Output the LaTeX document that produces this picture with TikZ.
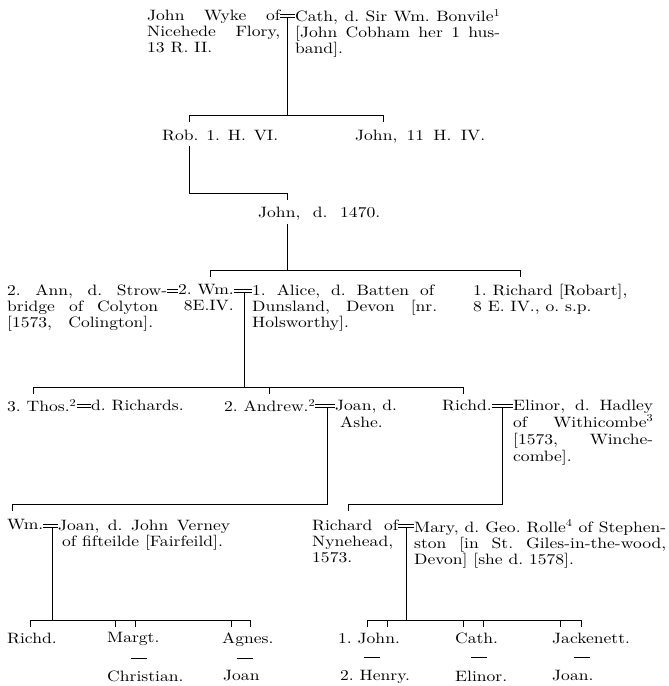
\documentclass[tikz,border=0pt]{standalone}
\usepackage{fontspec}
\setmainfont{lmroman10-regular.otf}[FakeStretch=1.17]
\usetikzlibrary{calc}
\newcommand{\spreadline}[2]{\makebox[#1pt][s]{#2}}
\tikzset{
    person/.style={anchor=north west, align=left, inner sep=0pt, font=\fontsize{15}{16}\selectfont\frenchspacing},
    tallperson/.style={person, font=\fontsize{15}{17}\selectfont\frenchspacing},
    kin/.style={line width=0.6pt},
    wed/.style={double=white, double distance=2.2pt, line width=0.5pt},
    sib/.style={line width=0.7pt}
}

\begin{document}
\begin{tikzpicture}[x=1pt, y=-1pt]
        \useasboundingbox (0,0) rectangle (669,686);
        \node[person] (wyke) at (147,9.5) {\spreadline{133}{John Wyke of}\\\spreadline{133}{Nicehede Flory,}\\13 R. II.};
        \node[person] (cath) at (295,9.5) {\spreadline{205}{Cath, d. Sir Wm. Bonvile\textsuperscript{1}}\\\spreadline{205}{[John Cobham her 1 hus-}\\band].};
        \node[person] (rob) at (162,129.5) {\spreadline{116}{Rob. 1. H. VI.}};
        \node[person] (johnA) at (355,129.5) {\spreadline{130}{John, 11 H. IV.}};
        \node[person] (johnB) at (258,206.5) {\spreadline{122}{John, d. 1470.}};
        \node[person] (ann) at (7,284.5) {\spreadline{160}{2. Ann, d. Strow-}\\\spreadline{151}{bridge of Colyton}\\\spreadline{146}{[1573, Colington].}};
        \node[person, align=right] (wmA) at (178,284.5) {2. Wm.\\8E.IV.};
        \node[person] (alice) at (252,284.5) {\spreadline{182}{1. Alice, d. Batten of}\\\spreadline{185}{Dunsland, Devon [nr.}\\Holsworthy].};
        \node[person] (richardA) at (473,284.5) {1. Richard [Robart],\\8 E. IV., o. s.p.};
        \node[person] (thos) at (7,399.5) {3. Thos.\textsuperscript{2}};
        \node[person] (thosW) at (91,399.5) {d. Richards.};
        \node[person] (andrew) at (224,399.5) {2. Andrew.\textsuperscript{2}};
        \node[tallperson] (joanA) at (335,399.5) {Joan, d.\\\hspace*{5pt}Ashe.};
        \node[person] (richdA) at (442,399.5) {Richd.};
        \node[tallperson] (elinorA) at (513,399.5) {\spreadline{140}{Elinor, d. Hadley}\\\spreadline{140}{of Withicombe\textsuperscript{3}}\\\spreadline{140}{[1573, Winche-}\\combe].};
        \node[person] (wmB) at (7,519.5) {Wm.};
        \node[person] (joanB) at (58,519.5) {\spreadline{172}{Joan, d. John Verney}\\\hspace*{4pt}of fifteilde [Fairfeild].};
        \node[person] (richardB) at (312,519.5) {\spreadline{86}{Richard of}\\Nynehead,\\1573.};
        \node[person] (mary) at (414,519.5) {\spreadline{252}{Mary, d. Geo. Rolle\textsuperscript{4} of Stephen-}\\\spreadline{252}{ston [in St. Giles-in-the-wood,}\\Devon] [she d. 1578].};
        \node[person] (richdB) at (7,632.5) {Richd.};
        \node[person] (margt) at (107,632.5) {Margt.};
        \node[person] (agnes) at (222,632.5) {Agnes.};
        \node[person] (johnC) at (338,632.5) {1. John.};
        \node[person] (cathB) at (455,632.5) {Cath.};
        \node[person] (jackenett) at (552,632.5) {Jackenett.};
        \node[person] (christian) at (107,670.5) {Christian.};
        \node[person] (joanC) at (223,670.5) {Joan};
        \node[person] (henry) at (340,670.5) {2. Henry.};
        \node[person] (elinorB) at (455,670.5) {Elinor.};
        \node[person] (joanD) at (552,670.5) {Joan.};

        \coordinate (mWyke) at (287,16);
        \coordinate (robUp) at (189,115);
        \coordinate (johnAUp) at (383,115);
        \coordinate (johnBUp) at (287,193);
        \coordinate (wmAUp) at (210,270);
        \coordinate (richardAUp) at (520,270);
        \coordinate (mAnn) at (172,291);
        \coordinate (mWm) at (244,291);
        \coordinate (thosUp) at (33,387);
        \coordinate (andrewUp) at (269,387);
        \coordinate (richdAUp) at (463,387);
        \coordinate (mThos) at (84,406);
        \coordinate (mAndrew) at (327,406);
        \coordinate (mRichdA) at (502,406);
        \coordinate (wmBUp) at (12,504);
        \coordinate (richardBUp) at (348,504);
        \coordinate (mWmB) at (52,526);
        \coordinate (mRichardB) at (406,526);
        \coordinate (richdBUp) at (30,620);
        \coordinate (margtUp) at (115,620);
        \coordinate (christianUp) at (135,620);
        \coordinate (agnesUp) at (231,620);
        \coordinate (joanCUp) at (250,620);
        \coordinate (johnCUp) at (367,620);
        \coordinate (henryUp) at (387,620);
        \coordinate (cathBUp) at (463,620);
        \coordinate (elinorBUp) at (483,620);
        \coordinate (jackenettUp) at (560,620);
        \coordinate (joanDUp) at (581,620);

        \draw[wed] (mWyke -| wyke.east)--(mWyke -| cath.west);
        \draw[kin] (mWyke) ++(0,1.3)--(mWyke |- robUp);
        \draw[kin] (robUp) ++(0,7)--(robUp)--(johnAUp)--++(0,7);
        \draw[kin] (rob.south -| robUp) ++(0,5) |- (johnBUp)--++(0,7);
        \draw[kin] (johnB.south -| johnBUp) ++(0,4)--(johnBUp |- wmAUp);
        \draw[kin] (wmAUp) ++(0,7)--(wmAUp)--(richardAUp)--++(0,7);

        \draw[wed] (mAnn -| ann.east)--(mAnn -| wmA.west);
        \draw[wed] (mWm -| wmA.east)--(mWm -| alice.west);
        \draw[kin] (mWm) ++(0,1.3)--(mWm |- thosUp);
        \draw[kin] (thosUp) ++(0,7)--(thosUp)--(richdAUp)--++(0,7);
        \draw[kin] (andrewUp)--++(0,7);

        \draw[wed] (mThos -| thos.east)--(mThos -| thosW.west);
        \draw[wed] (mAndrew -| andrew.east)--(mAndrew -| joanA.west);
        \draw[kin] (mAndrew) ++(0,1.3) |- (wmBUp)--++(0,7);
        \draw[wed] (mRichdA -| richdA.east)--(mRichdA -| elinorA.west);
        \draw[kin] (mRichdA) ++(0,1.3) |- (richardBUp)--++(0,7);

        \draw[wed] (mWmB -| wmB.east)--(mWmB -| joanB.west);
        \draw[kin] (mWmB) ++(0,1.3)--(mWmB |- richdBUp);
        \draw[kin] (richdBUp) ++(0,7)--(richdBUp)--(joanCUp)--++(0,7);
        \draw[wed] (mRichardB -| richardB.east)--(mRichardB -| mary.west);
        \draw[kin] (mRichardB) ++(0,1.3)--(mRichardB |- johnCUp);
        \draw[kin] (johnCUp) ++(0,7)--(johnCUp)--(joanDUp)--++(0,7);
        \foreach \k in {margtUp, christianUp, agnesUp, henryUp, cathBUp, elinorBUp, jackenettUp}
            \draw[kin] (\k)--++(0,7);

        \foreach \a/\b in {margt/christian, agnes/joanC, johnC/henry, cathB/elinorB, jackenett/joanD}
            \draw[sib] ($(\a.south)!0.5!(\b.north)$) +(-8,0)--+(8,0);
    \end{tikzpicture}
\end{document}
